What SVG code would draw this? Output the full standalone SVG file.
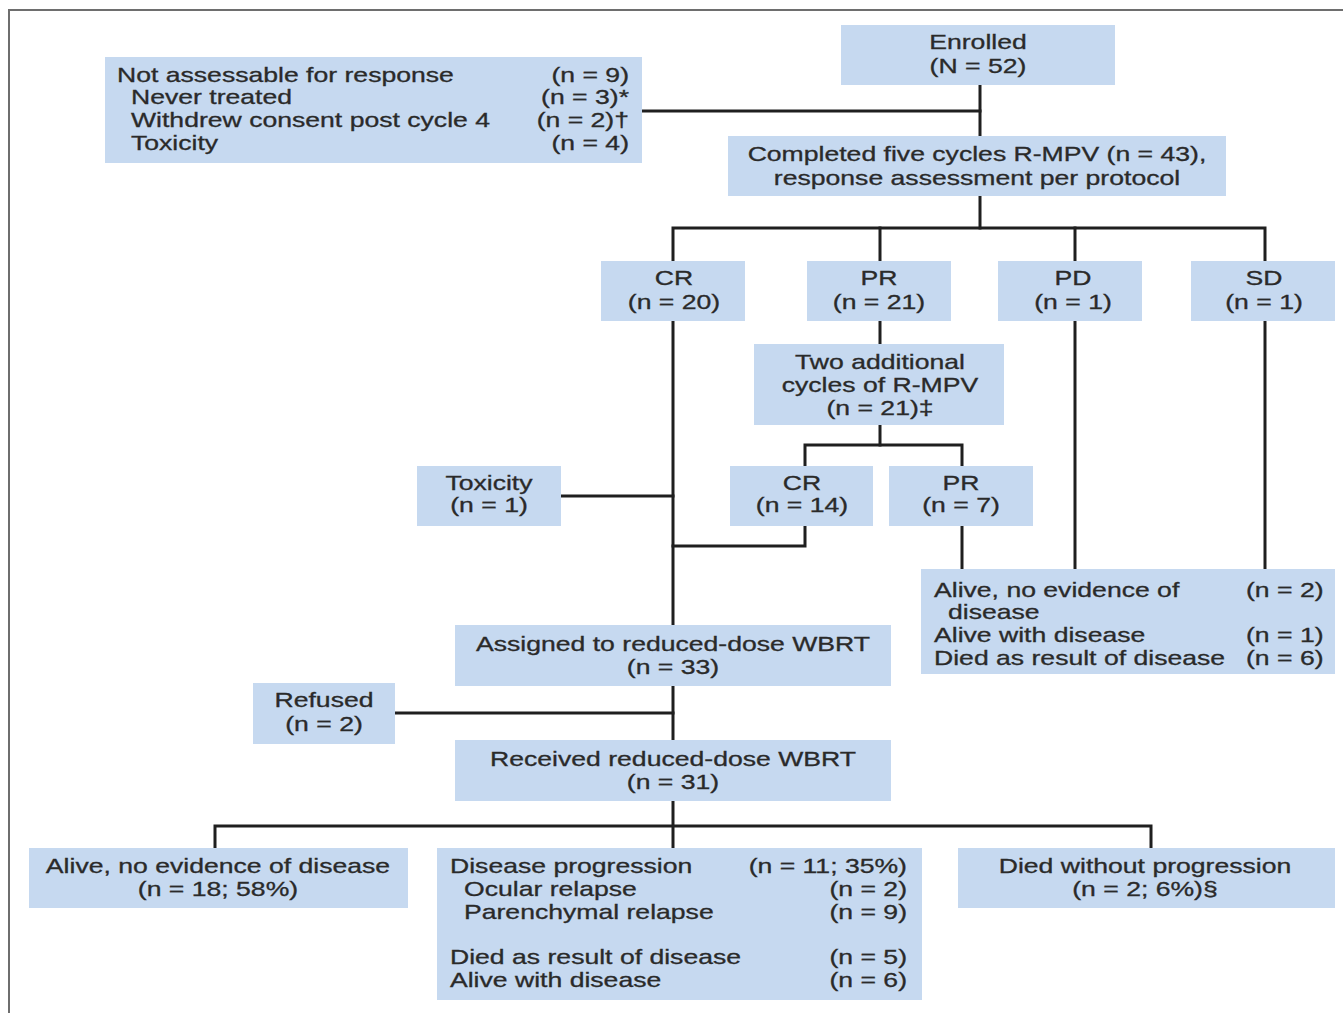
<svg xmlns="http://www.w3.org/2000/svg" width="1343" height="1013" viewBox="0 0 1343 1013">
  <style>
    .box { fill: #c6d9f0; }
    .frame { fill: none; stroke: #6e6e6e; stroke-width: 2; }
    .wire { fill: none; stroke: #1f1f1f; stroke-width: 3; stroke-linecap: square; }
    text { font-family: "Liberation Sans", Arial, sans-serif; font-size: 20px; fill: #2a2a2a; stroke: #2a2a2a; stroke-width: 0.3; transform-box: fill-box; }
    .c { text-anchor: middle; transform-origin: center; transform: scaleX(1.33); }
    .l { text-anchor: start; transform-origin: left center; transform: scaleX(1.33); }
    .r { text-anchor: end; transform-origin: right center; transform: scaleX(1.33); }
  </style>

  <!-- outer frame -->
  <path class="frame" d="M9 1013 V10 H1343"/>

  <!-- connectors -->
  <g id="connectors">
    <path class="wire" d="M980 85 V136"/>
    <path class="wire" d="M642 111 H980"/>
    <path class="wire" d="M980 196 V228"/>
    <path class="wire" d="M673 261 V228 H1265 V261"/>
    <path class="wire" d="M880 228 V261"/>
    <path class="wire" d="M1075 228 V261"/>
    <path class="wire" d="M673 321 V625"/>
    <path class="wire" d="M880 321 V344"/>
    <path class="wire" d="M880 425 V445"/>
    <path class="wire" d="M805 466 V445 H962 V466"/>
    <path class="wire" d="M561 496 H673"/>
    <path class="wire" d="M805 526 V546 H673"/>
    <path class="wire" d="M962 526 V569"/>
    <path class="wire" d="M1075 321 V569"/>
    <path class="wire" d="M1265 321 V569"/>
    <path class="wire" d="M673 686 V740"/>
    <path class="wire" d="M395 713 H673"/>
    <path class="wire" d="M673 801 V848"/>
    <path class="wire" d="M215 848 V826 H1151 V848"/>
  </g>

  <g id="enrolled">
    <rect class="box" x="841" y="25" width="274" height="60"/>
    <text class="c" x="978" y="49">Enrolled</text>
    <text class="c" x="978" y="73">(N = 52)</text>
  </g>

  <g id="not-assessable">
    <rect class="box" x="105" y="57" width="537" height="106"/>
    <text class="l" x="117" y="82">Not assessable for response</text>
    <text class="l" x="131" y="104">Never treated</text>
    <text class="l" x="131" y="127">Withdrew consent post cycle 4</text>
    <text class="l" x="131" y="150">Toxicity</text>
    <text class="r" x="629" y="82">(n = 9)</text>
    <text class="r" x="629" y="104">(n = 3)*</text>
    <text class="r" x="629" y="127">(n = 2)†</text>
    <text class="r" x="629" y="150">(n = 4)</text>
  </g>

  <g id="completed">
    <rect class="box" x="728" y="136" width="498" height="60"/>
    <text class="c" x="977" y="161">Completed five cycles R-MPV (n = 43),</text>
    <text class="c" x="977" y="185">response assessment per protocol</text>
  </g>

  <g id="cr">
    <rect class="box" x="601" y="261" width="144" height="60"/>
    <text class="c" x="674" y="285">CR</text>
    <text class="c" x="674" y="309">(n = 20)</text>
  </g>

  <g id="pr">
    <rect class="box" x="807" y="261" width="144" height="60"/>
    <text class="c" x="879" y="285">PR</text>
    <text class="c" x="879" y="309">(n = 21)</text>
  </g>

  <g id="pd">
    <rect class="box" x="998" y="261" width="144" height="60"/>
    <text class="c" x="1073" y="285">PD</text>
    <text class="c" x="1073" y="309">(n = 1)</text>
  </g>

  <g id="sd">
    <rect class="box" x="1191" y="261" width="144" height="60"/>
    <text class="c" x="1264" y="285">SD</text>
    <text class="c" x="1264" y="309">(n = 1)</text>
  </g>

  <g id="two-additional">
    <rect class="box" x="754" y="344" width="250" height="81"/>
    <text class="c" x="880" y="369">Two additional</text>
    <text class="c" x="880" y="392">cycles of R-MPV</text>
    <text class="c" x="880" y="415">(n = 21)‡</text>
  </g>

  <g id="toxicity">
    <rect class="box" x="417" y="466" width="144" height="60"/>
    <text class="c" x="489" y="490">Toxicity</text>
    <text class="c" x="489" y="512">(n = 1)</text>
  </g>

  <g id="cr-14">
    <rect class="box" x="730" y="466" width="143" height="60"/>
    <text class="c" x="802" y="490">CR</text>
    <text class="c" x="802" y="512">(n = 14)</text>
  </g>

  <g id="pr-7">
    <rect class="box" x="889" y="466" width="144" height="60"/>
    <text class="c" x="961" y="490">PR</text>
    <text class="c" x="961" y="512">(n = 7)</text>
  </g>

  <g id="nonresponder-outcome">
    <rect class="box" x="921" y="569" width="414" height="105"/>
    <text class="l" x="934" y="597">Alive, no evidence of</text>
    <text class="l" x="948" y="619">disease</text>
    <text class="l" x="934" y="642">Alive with disease</text>
    <text class="l" x="934" y="665">Died as result of disease</text>
    <text class="l" x="1246" y="597">(n = 2)</text>
    <text class="l" x="1246" y="642">(n = 1)</text>
    <text class="l" x="1246" y="665">(n = 6)</text>
  </g>

  <g id="assigned">
    <rect class="box" x="455" y="625" width="436" height="61"/>
    <text class="c" x="673" y="651">Assigned to reduced-dose WBRT</text>
    <text class="c" x="673" y="674">(n = 33)</text>
  </g>

  <g id="refused">
    <rect class="box" x="253" y="683" width="142" height="61"/>
    <text class="c" x="324" y="707">Refused</text>
    <text class="c" x="324" y="731">(n = 2)</text>
  </g>

  <g id="received">
    <rect class="box" x="455" y="740" width="436" height="61"/>
    <text class="c" x="673" y="766">Received reduced-dose WBRT</text>
    <text class="c" x="673" y="789">(n = 31)</text>
  </g>

  <g id="alive-ned">
    <rect class="box" x="29" y="848" width="379" height="60"/>
    <text class="c" x="218" y="873">Alive, no evidence of disease</text>
    <text class="c" x="218" y="896">(n = 18; 58%)</text>
  </g>

  <g id="progression">
    <rect class="box" x="437" y="848" width="485" height="152"/>
    <text class="l" x="450" y="873">Disease progression</text>
    <text class="l" x="464" y="896">Ocular relapse</text>
    <text class="l" x="464" y="919">Parenchymal relapse</text>
    <text class="l" x="450" y="964">Died as result of disease</text>
    <text class="l" x="450" y="987">Alive with disease</text>
    <text class="r" x="907" y="873">(n = 11; 35%)</text>
    <text class="r" x="907" y="896">(n = 2)</text>
    <text class="r" x="907" y="919">(n = 9)</text>
    <text class="r" x="907" y="964">(n = 5)</text>
    <text class="r" x="907" y="987">(n = 6)</text>
  </g>

  <g id="died-no-progression">
    <rect class="box" x="958" y="848" width="377" height="60"/>
    <text class="c" x="1145" y="873">Died without progression</text>
    <text class="c" x="1145" y="896">(n = 2; 6%)§</text>
  </g>
</svg>
